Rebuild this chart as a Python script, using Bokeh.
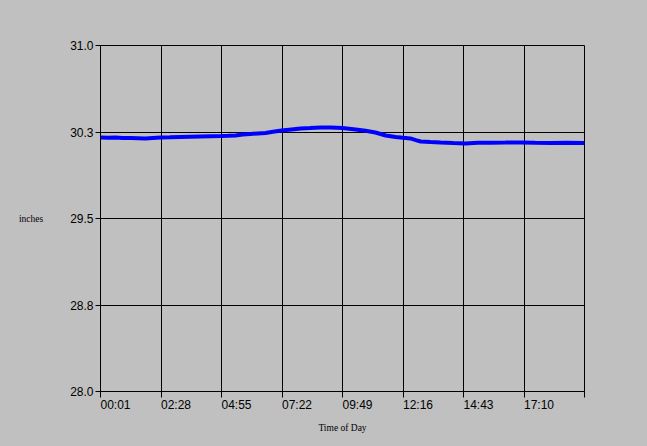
from bokeh.plotting import figure
from bokeh.models import FixedTicker, Range1d
from bokeh.embed import file_html
from bokeh.resources import INLINE

# minutes since midnight
times = [1, 20, 37, 55, 74, 92, 110, 128, 147, 170, 195, 220, 244, 270, 295, 312, 329, 347,
         365, 383, 402, 420, 441, 465, 487, 510, 536, 560, 589, 605, 621, 645, 669, 694,
         718, 736, 754, 767, 779, 803, 827, 858, 888, 918, 949, 985, 1021, 1057, 1094, 1135, 1177]
pressure = [30.202, 30.200, 30.202, 30.198, 30.198, 30.196, 30.194, 30.198, 30.202, 30.204,
            30.207, 30.209, 30.211, 30.213, 30.215, 30.217, 30.220, 30.228, 30.233, 30.237,
            30.241, 30.252, 30.263, 30.272, 30.280, 30.284, 30.289, 30.290, 30.285, 30.279,
            30.272, 30.260, 30.246, 30.220, 30.207, 30.200, 30.194, 30.180, 30.168, 30.163,
            30.159, 30.154, 30.150, 30.156, 30.157, 30.158, 30.160, 30.156, 30.155, 30.157, 30.155]

x_ticks = [1, 148, 295, 442, 589, 736, 883, 1030, 1177]
x_tick_labels = ["00:01", "02:28", "04:55", "07:22", "09:49", "12:16", "14:43", "17:10", ""]
y_ticks = [28.0, 28.75, 29.5, 30.25, 31.0]
y_tick_labels = ["28.0", "28.8", "29.5", "30.3", "31.0"]

BG = "#c0c0c0"
TICK_FONT = "'Liberation Sans', Arial, sans-serif"
TITLE_FONT = "'Liberation Serif', serif"

# leading figure/punctuation spaces so the centred label starts at its tick
def left_start(s):
    pad = "".join("\u2007" if c.isdigit() else "\u2008" for c in s)
    return pad + s if s else s

p = figure(width=647, height=446, output_backend="svg", toolbar_location=None,
           x_range=Range1d(1, 1177), y_range=Range1d(28.0, 31.0),
           background_fill_color=BG, border_fill_color=BG,
           min_border_left=100, min_border_right=63, min_border_top=45, min_border_bottom=55)
p.outline_line_color = "black"
p.outline_line_width = 1

p.line(times, pressure, line_color="#0000ff", line_width=4)

# grid
p.xgrid.ticker = FixedTicker(ticks=x_ticks)
p.ygrid.ticker = FixedTicker(ticks=y_ticks)
p.grid.grid_line_color = "black"
p.grid.grid_line_width = 1

# x axis
p.xaxis.ticker = FixedTicker(ticks=x_ticks)
p.xaxis.major_label_overrides = {t: left_start(s) for t, s in zip(x_ticks, x_tick_labels)}
p.xaxis.major_tick_out = 6
p.xaxis.major_tick_in = 0
p.xaxis.minor_tick_line_color = None
p.xaxis.axis_line_color = "black"
p.xaxis.major_tick_line_color = "black"
p.xaxis.major_label_standoff = 0
p.xaxis.major_label_text_font = TICK_FONT
p.xaxis.major_label_text_font_size = "12px"
p.xaxis.major_label_text_color = "black"
p.xaxis.axis_label = "Time of Day"
p.xaxis.axis_label_text_font = TITLE_FONT
p.xaxis.axis_label_text_font_size = "9.5px"
p.xaxis.axis_label_text_font_style = "normal"
p.xaxis.axis_label_text_color = "black"
p.xaxis.axis_label_standoff = 8

# y axis
p.yaxis.ticker = FixedTicker(ticks=y_ticks)
p.yaxis.major_label_overrides = {t: s for t, s in zip(y_ticks, y_tick_labels)}
p.yaxis.major_tick_out = 5
p.yaxis.major_tick_in = 0
p.yaxis.minor_tick_line_color = None
p.yaxis.major_label_standoff = 2
p.yaxis.major_label_text_font = TICK_FONT
p.yaxis.major_label_text_font_size = "12px"
p.yaxis.major_label_text_color = "black"
p.yaxis.axis_label = "inches"
p.yaxis.axis_label_orientation = "horizontal"
p.yaxis.axis_label_text_font = TITLE_FONT
p.yaxis.axis_label_text_font_size = "9.5px"
p.yaxis.axis_label_text_font_style = "normal"
p.yaxis.axis_label_text_color = "black"
p.yaxis.axis_label_text_baseline = "bottom"
p.yaxis.axis_label_standoff = 24

html = file_html(p, INLINE)
html = html.replace("</head>", "<style>html,body{background:#c0c0c0;}</style></head>", 1)
open("out.html", "w").write(html)
